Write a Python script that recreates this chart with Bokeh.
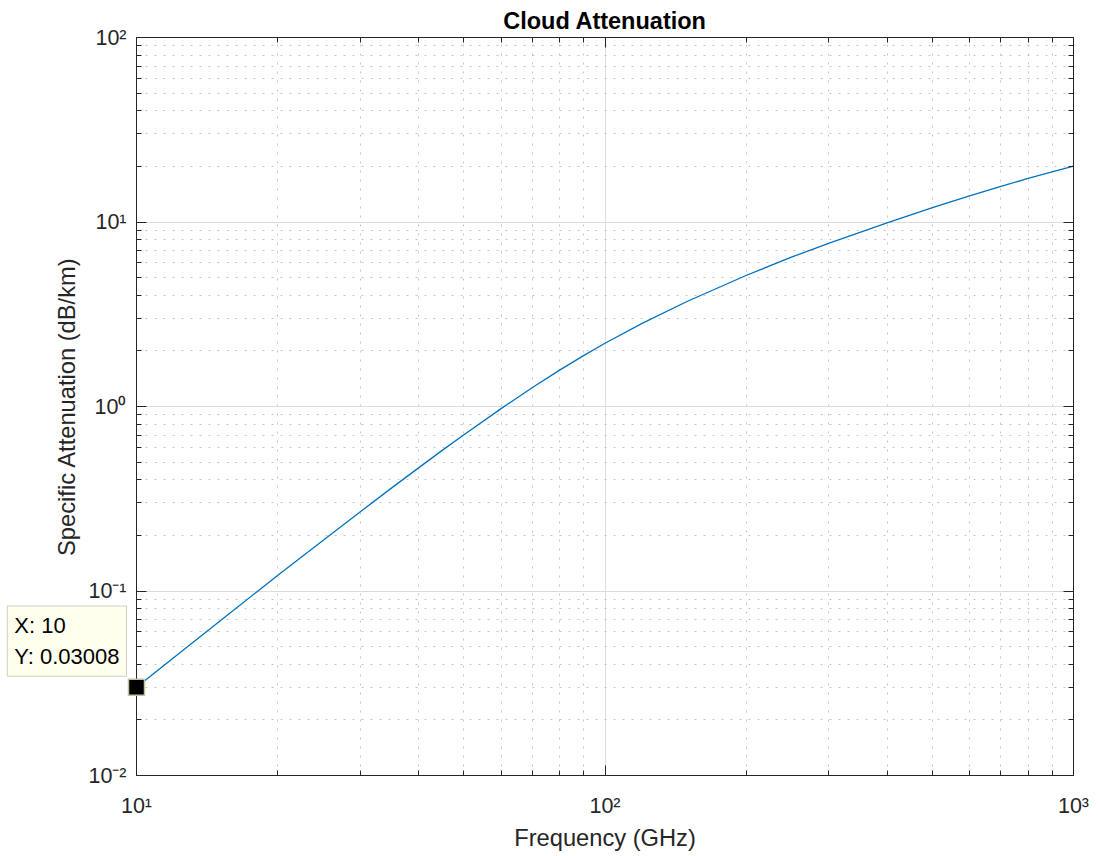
from bokeh.plotting import figure
from bokeh.models import LogAxis, FixedTicker, CustomJSTickFormatter
from bokeh.core.properties import value
from bokeh.embed import file_html
from bokeh.resources import INLINE

# ---- data ----
freq_ghz = [10, 12, 15, 18, 20, 25, 30, 35, 40, 45, 50, 60, 70, 80, 90, 100,
            120, 150, 200, 250, 300, 400, 500, 600, 700, 800, 900, 1000]
atten_db_km = [0.03008, 0.0435, 0.0682, 0.0982, 0.1212, 0.188, 0.268, 0.361,
               0.465, 0.580, 0.703, 0.974, 1.268, 1.574, 1.887, 2.201,
               2.82, 3.72, 5.13, 6.445, 7.66, 9.90, 11.97, 13.85, 15.59,
               17.21, 18.71, 20.1]
tip_x = 10
tip_y = 0.03008

# tick positions (decades) and minor ticks
x_major = [10, 100, 1000]
x_minor = [20, 30, 40, 50, 60, 70, 80, 90, 200, 300, 400, 500, 600, 700, 800, 900]
y_major = [0.01, 0.1, 1, 10, 100]
y_minor = [0.02, 0.03, 0.04, 0.05, 0.06, 0.07, 0.08, 0.09,
           0.2, 0.3, 0.4, 0.5, 0.6, 0.7, 0.8, 0.9,
           2, 3, 4, 5, 6, 7, 8, 9,
           20, 30, 40, 50, 60, 70, 80, 90]

title_text = "Cloud Attenuation"
x_label = "Frequency (GHz)"
y_label = "Specific Attenuation (dB/km)"

FONT = "Liberation Sans"
DARK = "#262626"

p = figure(x_axis_type="log", y_axis_type="log",
           x_range=(10, 1000), y_range=(0.01, 100),
           frame_width=937, frame_height=738,
           min_border_left=136, min_border_right=20,
           min_border_top=37, min_border_bottom=78,
           output_backend="svg", toolbar_location=None,
           background_fill_color="white", border_fill_color="white")

p.title.text = title_text
p.title.align = "center"
p.title.text_font = FONT
p.title.text_font_size = "23.5px"
p.title.text_font_style = "bold"
p.title.text_color = "#000000"
p.title.standoff = 8

sup_code = """
const sup = {"-":"\u207b","0":"\u2070","1":"\u00b9","2":"\u00b2","3":"\u00b3",
             "4":"\u2074","5":"\u2075","6":"\u2076","7":"\u2077","8":"\u2078","9":"\u2079"};
const e = Math.round(Math.log10(tick));
return "10" + String(e).split("").map(c => sup[c]).join("");
"""

def style_axis(ax):
    ax.major_tick_in = 10
    ax.major_tick_out = 0
    ax.minor_tick_in = 5
    ax.minor_tick_out = 0
    ax.axis_line_color = DARK
    ax.major_tick_line_color = DARK
    ax.minor_tick_line_color = DARK
    ax.major_label_text_font = FONT
    ax.major_label_text_font_size = "21.5px"
    ax.major_label_text_color = DARK
    ax.axis_label_text_font = FONT
    ax.axis_label_text_font_size = "23.7px"
    ax.axis_label_text_font_style = "normal"
    ax.axis_label_text_color = DARK

xt = FixedTicker(ticks=x_major, minor_ticks=x_minor)
yt = FixedTicker(ticks=y_major, minor_ticks=y_minor)

p.xaxis.ticker = xt
p.yaxis.ticker = yt
p.xgrid.ticker = xt
p.ygrid.ticker = yt

for ax in list(p.xaxis) + list(p.yaxis):
    style_axis(ax)
    ax.formatter = CustomJSTickFormatter(code=sup_code)

p.xaxis.axis_label = x_label
p.yaxis.axis_label = y_label
p.xaxis.major_label_standoff = 18
p.xaxis.axis_label_standoff = 4
p.yaxis.major_label_standoff = 10
p.yaxis.axis_label_standoff = 5

right_ax = LogAxis(ticker=FixedTicker(ticks=y_major, minor_ticks=y_minor),
                   formatter=CustomJSTickFormatter(code="return '';"))
top_ax = LogAxis(ticker=FixedTicker(ticks=x_major, minor_ticks=x_minor),
                 formatter=CustomJSTickFormatter(code="return '';"))
for ax in (right_ax, top_ax):
    style_axis(ax)
    ax.major_label_standoff = 0
p.add_layout(right_ax, "right")
p.add_layout(top_ax, "above")

for g in (p.xgrid, p.ygrid):
    g.grid_line_color = "#dcdcdc"
    g.grid_line_width = 1
    g.minor_grid_line_color = "#c4c4c4"
    g.minor_grid_line_dash = "2 7"
    g.minor_grid_line_width = 1

p.outline_line_color = DARK

p.line(freq_ghz, atten_db_km, line_color="#0072BD", line_width=1.3)

p.scatter([tip_x], [tip_y], marker="square", size=16,
          fill_color="black", line_color="#c4c0a0", line_width=1.5,
          level="overlay")

p.text(x=[tip_x], y=[tip_y], text=[f"X: {tip_x}\nY: {tip_y}"],
       anchor="bottom_right", text_align="left",
       x_offset=-10, y_offset=-11,
       text_font=value(FONT), text_font_size=value("22px"),
       text_color="#000000", text_line_height=1.25,
       background_fill_color="#ffffee", border_line_color="#d0d0c0",
       border_line_width=1, padding=7, level="overlay")

open("out.html", "w").write(file_html(p, INLINE))
